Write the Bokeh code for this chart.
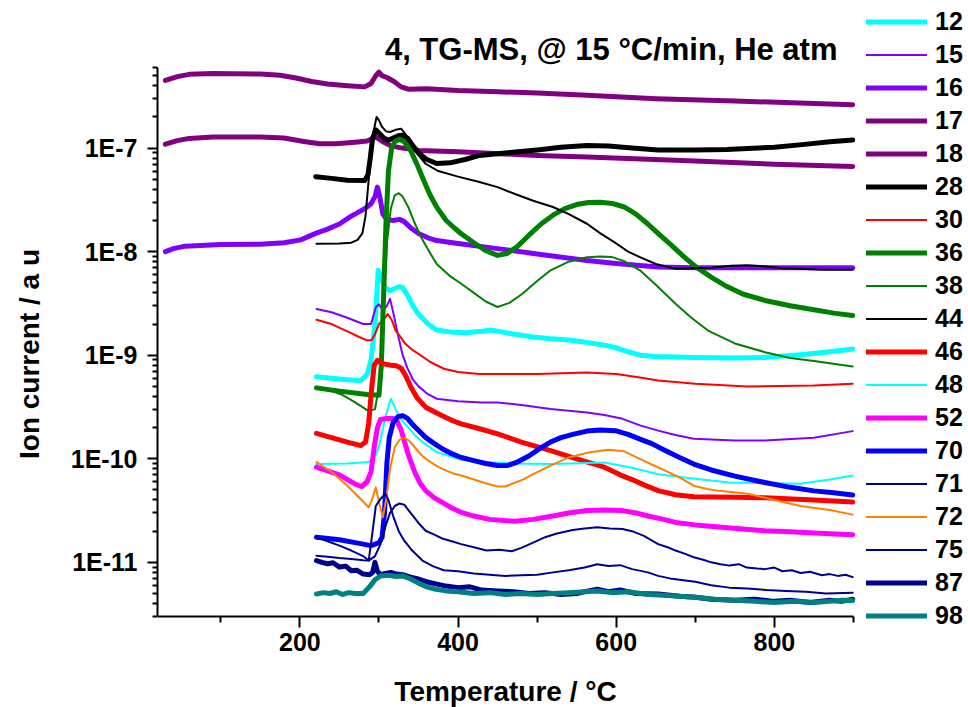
from bokeh.plotting import figure
from bokeh.models import Legend, LegendItem, FixedTicker, CustomJSTickFormatter, Range1d, Label
from bokeh.embed import file_html
from bokeh.resources import INLINE
import math

FONT = "Liberation Sans"

# ---------------- data (temperature in °C, ion current in a.u.) ----------------
T12 = [221, 240, 260, 277, 285, 290, 295, 299, 303, 308, 314, 320, 326, 330, 336, 343, 350, 362, 373, 390, 410, 430, 441, 455, 470, 495, 517, 540, 563, 585, 600, 615, 630, 650, 698, 750, 788, 840, 870, 899]
V12 = [6.2e-10, 6.0e-10, 5.8e-10, 5.7e-10, 6.5e-10, 9e-10, 2.0e-9, 6.6e-9, 5.4e-9, 4.5e-9, 4.2e-9, 4.4e-9, 4.6e-9, 4.5e-9, 3.8e-9, 3.0e-9, 2.5e-9, 2.0e-9, 1.75e-9, 1.68e-9, 1.65e-9, 1.7e-9, 1.75e-9, 1.68e-9, 1.6e-9, 1.5e-9, 1.44e-9, 1.4e-9, 1.33e-9, 1.25e-9, 1.18e-9, 1.08e-9, 1.0e-9, 9.7e-10, 9.5e-10, 9.4e-10, 9.5e-10, 1.02e-9, 1.08e-9, 1.15e-9]

T15 = [221, 240, 260, 280, 290, 296, 300, 305, 310, 314, 318, 323, 330, 336, 343, 350, 362, 373, 400, 430, 450, 480, 517, 563, 585, 608, 630, 653, 675, 698, 750, 788, 850, 899]
V15 = [2.8e-9, 2.6e-9, 2.3e-9, 2.0e-9, 2.0e-9, 2.9e-9, 3.1e-9, 2.7e-9, 3.0e-9, 3.5e-9, 2.6e-9, 1.7e-9, 1.0e-9, 7.5e-10, 5.8e-10, 5.0e-10, 4.2e-10, 3.8e-10, 3.6e-10, 3.5e-10, 3.5e-10, 3.3e-10, 3.03e-10, 2.8e-10, 2.65e-10, 2.43e-10, 2.1e-10, 1.87e-10, 1.7e-10, 1.56e-10, 1.5e-10, 1.5e-10, 1.6e-10, 1.85e-10]

T16 = [30, 40, 55, 100, 150, 180, 201, 220, 235, 250, 265, 282, 290, 295, 298, 301, 305, 310, 318, 326, 332, 340, 350, 362, 373, 400, 450, 500, 563, 600, 653, 700, 800, 899]
V16 = [1.0e-8, 1.07e-8, 1.13e-8, 1.17e-8, 1.18e-8, 1.22e-8, 1.3e-8, 1.5e-8, 1.65e-8, 1.85e-8, 2.2e-8, 2.6e-8, 2.9e-8, 3.4e-8, 4.2e-8, 3.4e-8, 2.3e-8, 2.05e-8, 2.0e-8, 2.05e-8, 1.95e-8, 1.7e-8, 1.5e-8, 1.36e-8, 1.28e-8, 1.2e-8, 1.07e-8, 9.5e-9, 8.2e-9, 7.7e-9, 7.1e-9, 7.0e-9, 7.0e-9, 7.0e-9]

T17 = [30, 45, 60, 90, 150, 175, 195, 215, 235, 260, 282, 290, 296, 300, 304, 310, 319, 328, 337, 360, 400, 450, 500, 563, 650, 750, 899]
V17 = [4.5e-7, 4.9e-7, 5.15e-7, 5.25e-7, 5.2e-7, 5.05e-7, 4.75e-7, 4.4e-7, 4.15e-7, 4.0e-7, 3.9e-7, 4.2e-7, 5.0e-7, 5.4e-7, 5.0e-7, 4.8e-7, 4.4e-7, 3.9e-7, 3.7e-7, 3.75e-7, 3.6e-7, 3.5e-7, 3.4e-7, 3.23e-7, 3.0e-7, 2.85e-7, 2.62e-7]

T18 = [30, 45, 60, 90, 150, 180, 205, 225, 245, 270, 285, 296, 305, 315, 330, 350, 400, 500, 563, 700, 800, 899]
V18 = [1.09e-7, 1.18e-7, 1.24e-7, 1.28e-7, 1.28e-7, 1.25e-7, 1.16e-7, 1.1e-7, 1.1e-7, 1.14e-7, 1.17e-7, 1.28e-7, 1.15e-7, 1.05e-7, 1.0e-7, 9.5e-8, 9.2e-8, 8.5e-8, 8.2e-8, 7.5e-8, 7.0e-8, 6.65e-8]

T28 = [220, 240, 260, 282, 286, 289, 292, 296, 300, 306, 312, 318, 325, 330, 336, 343, 350, 360, 373, 390, 410, 427, 450, 472, 500, 530, 563, 590, 620, 653, 700, 740, 766, 800, 835, 870, 899]
V28 = [5.3e-8, 5.1e-8, 4.9e-8, 4.87e-8, 5.5e-8, 8e-8, 1.25e-7, 1.5e-7, 1.4e-7, 1.25e-7, 1.19e-7, 1.25e-7, 1.32e-7, 1.33e-7, 1.25e-7, 1.05e-7, 9.0e-8, 7.8e-8, 7.1e-8, 7.2e-8, 7.8e-8, 8.5e-8, 8.8e-8, 9.15e-8, 9.6e-8, 1.02e-7, 1.06e-7, 1.05e-7, 1.0e-7, 9.6e-8, 9.6e-8, 9.7e-8, 9.9e-8, 1.02e-7, 1.08e-7, 1.15e-7, 1.2e-7]

T30 = [221, 240, 260, 275, 285, 291, 295, 300, 306, 311, 316, 321, 326, 333, 342, 350, 365, 382, 400, 427, 500, 563, 600, 630, 653, 700, 766, 850, 899]
V30 = [2.2e-9, 2.0e-9, 1.7e-9, 1.5e-9, 1.39e-9, 1.4e-9, 1.6e-9, 2.0e-9, 2.2e-9, 2.5e-9, 2.2e-9, 1.73e-9, 1.55e-9, 1.3e-9, 1.13e-9, 1.03e-9, 8.6e-10, 7.4e-10, 6.9e-10, 6.6e-10, 6.6e-10, 6.8e-10, 6.6e-10, 6.1e-10, 5.7e-10, 5.3e-10, 5.0e-10, 5.1e-10, 5.3e-10]

T36 = [221, 250, 285, 300, 303, 306, 309, 312, 316, 320, 326, 332, 340, 348, 356, 364, 373, 385, 395, 404, 420, 435, 450, 462, 475, 490, 505, 520, 535, 550, 565, 580, 595, 610, 625, 640, 655, 670, 685, 700, 720, 740, 760, 788, 820, 850, 875, 899]
V36 = [4.84e-10, 4.5e-10, 4.17e-10, 4.1e-10, 8e-10, 4e-9, 2e-8, 6e-8, 1.0e-7, 1.15e-7, 1.22e-7, 1.15e-7, 9.5e-8, 7.0e-8, 5.0e-8, 3.6e-8, 2.69e-8, 2.0e-8, 1.7e-8, 1.49e-8, 1.22e-8, 1.02e-8, 9.2e-9, 9.6e-9, 1.12e-8, 1.45e-8, 1.85e-8, 2.25e-8, 2.6e-8, 2.85e-8, 2.98e-8, 3.0e-8, 2.92e-8, 2.7e-8, 2.3e-8, 1.85e-8, 1.45e-8, 1.15e-8, 9.0e-9, 7.2e-9, 5.67e-9, 4.6e-9, 3.9e-9, 3.38e-9, 3.0e-9, 2.75e-9, 2.55e-9, 2.42e-9]

T38 = [221, 240, 252, 270, 286, 295, 300, 305, 310, 315, 320, 325, 330, 337, 345, 355, 365, 373, 390, 404, 420, 435, 450, 465, 481, 500, 517, 540, 563, 580, 594, 610, 630, 650, 675, 695, 716, 750, 788, 820, 850, 899]
V38 = [4.8e-10, 4.5e-10, 4.2e-10, 3.5e-10, 2.92e-10, 3.0e-10, 5e-10, 2e-9, 1.2e-8, 2.6e-8, 3.5e-8, 3.67e-8, 3.4e-8, 2.7e-8, 1.9e-8, 1.3e-8, 9.6e-9, 7.6e-9, 5.8e-9, 4.9e-9, 4.0e-9, 3.3e-9, 2.92e-9, 3.2e-9, 3.9e-9, 5.2e-9, 6.6e-9, 8.0e-9, 8.85e-9, 9.0e-9, 8.9e-9, 8.1e-9, 6.6e-9, 4.8e-9, 3.14e-9, 2.3e-9, 1.73e-9, 1.3e-9, 1.07e-9, 9.4e-10, 8.8e-10, 7.8e-10]

T44 = [221, 250, 265, 273, 279, 283, 287, 292, 297, 300, 304, 309, 314, 321, 328, 334, 340, 350, 359, 375, 400, 427, 450, 472, 495, 520, 540, 563, 580, 600, 615, 630, 650, 675, 700, 720, 745, 766, 790, 810, 833, 860, 899]
V44 = [1.19e-8, 1.2e-8, 1.22e-8, 1.3e-8, 1.5e-8, 2.2e-8, 4.9e-8, 1.3e-7, 2.0e-7, 1.85e-7, 1.6e-7, 1.45e-7, 1.43e-7, 1.5e-7, 1.54e-7, 1.35e-7, 1.1e-7, 8.5e-8, 7.06e-8, 6.0e-8, 5.3e-8, 4.7e-8, 4.2e-8, 3.6e-8, 3.1e-8, 2.7e-8, 2.3e-8, 1.86e-8, 1.5e-8, 1.2e-8, 1.0e-8, 8.85e-9, 7.6e-9, 6.84e-9, 6.9e-9, 7.0e-9, 7.3e-9, 7.4e-9, 7.2e-9, 6.9e-9, 6.84e-9, 6.7e-9, 6.7e-9]

T46 = [221, 240, 260, 277, 283, 287, 291, 294, 298, 305, 315, 322, 328, 334, 340, 348, 359, 370, 380, 392, 404, 425, 450, 480, 517, 550, 585, 605, 620, 635, 653, 675, 698, 750, 788, 850, 899]
V46 = [1.76e-10, 1.6e-10, 1.45e-10, 1.34e-10, 1.45e-10, 2.2e-10, 5e-10, 8.0e-10, 8.9e-10, 8.3e-10, 8.0e-10, 7.9e-10, 7.5e-10, 6.3e-10, 5.0e-10, 3.9e-10, 3.15e-10, 2.85e-10, 2.6e-10, 2.35e-10, 2.17e-10, 1.97e-10, 1.74e-10, 1.45e-10, 1.2e-10, 1.0e-10, 8.3e-11, 7.0e-11, 6.3e-11, 5.6e-11, 4.93e-11, 4.5e-11, 4.3e-11, 4.25e-11, 4.2e-11, 4.0e-11, 3.82e-11]

T48 = [221, 260, 287, 295, 300, 308, 315, 322, 330, 337, 345, 355, 373, 400, 427, 470, 517, 585, 620, 653, 700, 743, 800, 833, 870, 899]
V48 = [8.9e-11, 9.0e-11, 9.3e-11, 1.05e-10, 1.3e-10, 2.5e-10, 3.8e-10, 2.9e-10, 2.3e-10, 2.01e-10, 1.7e-10, 1.45e-10, 1.16e-10, 1.0e-10, 9.3e-11, 9.0e-11, 8.9e-11, 9.2e-11, 8.2e-11, 7.1e-11, 6.4e-11, 5.9e-11, 5.8e-11, 5.75e-11, 6.3e-11, 6.9e-11]

T52 = [221, 250, 270, 278, 285, 290, 294, 298, 302, 310, 318, 323, 328, 333, 337, 345, 352, 359, 370, 380, 392, 404, 420, 440, 472, 495, 520, 540, 563, 585, 608, 625, 640, 660, 675, 700, 730, 760, 788, 820, 850, 899]
V52 = [8.3e-11, 7e-11, 5.7e-11, 5.4e-11, 6e-11, 7.5e-11, 1.3e-10, 2.0e-10, 2.4e-10, 2.45e-10, 2.45e-10, 2.3e-10, 1.9e-10, 1.4e-10, 1.1e-10, 7.5e-11, 5.8e-11, 4.93e-11, 4.2e-11, 3.8e-11, 3.35e-11, 3.04e-11, 2.8e-11, 2.6e-11, 2.49e-11, 2.6e-11, 2.8e-11, 3.0e-11, 3.16e-11, 3.2e-11, 3.16e-11, 3.0e-11, 2.8e-11, 2.6e-11, 2.43e-11, 2.3e-11, 2.2e-11, 2.1e-11, 2.02e-11, 1.97e-11, 1.92e-11, 1.85e-11]

T70 = [221, 250, 270, 290, 300, 304, 307, 310, 313, 318, 324, 330, 336, 345, 359, 370, 380, 392, 404, 420, 435, 450, 462, 475, 490, 505, 517, 530, 545, 563, 580, 599, 615, 630, 645, 660, 680, 698, 720, 750, 788, 820, 850, 875, 899]
V70 = [1.75e-11, 1.65e-11, 1.55e-11, 1.45e-11, 1.55e-11, 1.75e-11, 3e-11, 9e-11, 1.6e-10, 2.25e-10, 2.55e-10, 2.61e-10, 2.45e-10, 2.05e-10, 1.61e-10, 1.4e-10, 1.25e-10, 1.12e-10, 1.03e-10, 9.6e-11, 9.0e-11, 8.6e-11, 8.6e-11, 9.3e-11, 1.07e-10, 1.28e-10, 1.45e-10, 1.6e-10, 1.72e-10, 1.85e-10, 1.9e-10, 1.87e-10, 1.72e-10, 1.55e-10, 1.4e-10, 1.22e-10, 1.03e-10, 8.9e-11, 7.8e-11, 6.8e-11, 5.9e-11, 5.3e-11, 4.9e-11, 4.7e-11, 4.48e-11]

T71 = [221, 235, 250, 265, 280, 287, 295, 302, 308, 314, 320, 326, 332, 340, 350, 359, 370, 380, 392, 404, 420, 436, 452, 468, 480, 495, 510, 525, 545, 560, 576, 592, 608, 620, 635, 653, 665, 675, 688, 698, 710, 720, 732, 743, 755, 765, 778, 788, 800, 810, 822, 833, 845, 860, 870, 880, 890, 899]
V71 = [1.75e-11, 1.6e-11, 1.45e-11, 1.3e-11, 1.15e-11, 1.04e-11, 1.15e-11, 1.5e-11, 2.2e-11, 3.0e-11, 3.5e-11, 3.7e-11, 3.6e-11, 3.0e-11, 2.4e-11, 2.02e-11, 1.85e-11, 1.7e-11, 1.6e-11, 1.5e-11, 1.4e-11, 1.3e-11, 1.32e-11, 1.28e-11, 1.38e-11, 1.55e-11, 1.75e-11, 1.9e-11, 2.05e-11, 2.12e-11, 2.18e-11, 2.12e-11, 2.1e-11, 2.0e-11, 1.8e-11, 1.5e-11, 1.4e-11, 1.3e-11, 1.2e-11, 1.12e-11, 1.06e-11, 1.0e-11, 9.6e-12, 9.3e-12, 9.6e-12, 8.9e-12, 8.7e-12, 8.6e-12, 8.9e-12, 8.2e-12, 8.4e-12, 7.9e-12, 8.1e-12, 7.5e-12, 7.7e-12, 7.4e-12, 7.6e-12, 7.2e-12]

T72 = [221, 240, 260, 278, 287, 292, 296, 300, 305, 309, 314, 320, 326, 332, 338, 345, 352, 359, 370, 380, 392, 404, 420, 435, 450, 460, 470, 482, 495, 517, 540, 565, 590, 610, 630, 645, 660, 680, 698, 715, 730, 766, 800, 833, 870, 899]
V72 = [9.3e-11, 7.5e-11, 5.5e-11, 4.0e-11, 3.4e-11, 4.2e-11, 5.3e-11, 3.8e-11, 2.72e-11, 4e-11, 8e-11, 1.3e-10, 1.52e-10, 1.59e-10, 1.5e-10, 1.3e-10, 1.12e-10, 1.0e-10, 8.8e-11, 8.0e-11, 7.3e-11, 6.9e-11, 6.3e-11, 5.8e-11, 5.4e-11, 5.4e-11, 5.8e-11, 6.3e-11, 7.1e-11, 8.6e-11, 1.03e-10, 1.15e-10, 1.22e-10, 1.18e-10, 1.0e-10, 8.8e-11, 7.8e-11, 6.6e-11, 5.5e-11, 5.1e-11, 4.9e-11, 4.6e-11, 4.0e-11, 3.5e-11, 3.2e-11, 2.89e-11]

T75 = [221, 235, 250, 265, 280, 287, 292, 296, 302, 308, 312, 318, 325, 332, 342, 355, 368, 382, 400, 420, 440, 460, 480, 500, 520, 540, 560, 576, 590, 605, 620, 640, 653, 668, 680, 700, 720, 743, 766, 790, 815, 840, 865, 899]
V75 = [1.16e-11, 1.13e-11, 1.1e-11, 1.08e-11, 1.05e-11, 1.04e-11, 2.0e-11, 3.5e-11, 4.1e-11, 4.6e-11, 4.0e-11, 2.8e-11, 2.0e-11, 1.62e-11, 1.3e-11, 1.04e-11, 9.2e-12, 8.4e-12, 8.2e-12, 7.8e-12, 7.6e-12, 7.4e-12, 7.5e-12, 7.6e-12, 8.0e-12, 8.4e-12, 8.9e-12, 9.6e-12, 9.2e-12, 9.4e-12, 8.6e-12, 8.0e-12, 7.4e-12, 7.0e-12, 6.8e-12, 6.5e-12, 6.0e-12, 5.7e-12, 5.6e-12, 5.4e-12, 5.3e-12, 5.2e-12, 5.0e-12, 5.1e-12]

T87 = [221, 228, 235, 242, 250, 258, 265, 272, 280, 288, 292, 295, 298, 302, 308, 315, 322, 330, 340, 350, 360, 372, 385, 400, 415, 430, 450, 470, 490, 510, 530, 550, 565, 576, 590, 605, 625, 653, 680, 700, 720, 750, 775, 800, 820, 845, 870, 885, 899]
V87 = [1.04e-11, 1.0e-11, 9.7e-12, 9.9e-12, 9.0e-12, 9.2e-12, 8.3e-12, 8.4e-12, 7.7e-12, 7.6e-12, 8.0e-12, 1.0e-11, 8.2e-12, 7.6e-12, 7.8e-12, 8.0e-12, 7.7e-12, 7.6e-12, 7.2e-12, 6.9e-12, 6.5e-12, 6.2e-12, 5.9e-12, 5.7e-12, 5.8e-12, 5.4e-12, 5.3e-12, 5.2e-12, 5.0e-12, 5.1e-12, 4.9e-12, 5.0e-12, 5.3e-12, 5.5e-12, 5.2e-12, 5.4e-12, 5.0e-12, 4.95e-12, 4.7e-12, 4.6e-12, 4.4e-12, 4.3e-12, 4.4e-12, 4.2e-12, 4.3e-12, 4.1e-12, 4.3e-12, 4.2e-12, 4.4e-12]

T98 = [221, 230, 238, 246, 254, 262, 270, 280, 288, 295, 302, 312, 322, 330, 340, 350, 360, 372, 385, 400, 420, 440, 460, 480, 500, 520, 540, 560, 576, 595, 615, 640, 660, 680, 700, 725, 750, 775, 800, 825, 850, 870, 885, 899]
V98 = [4.95e-12, 5.1e-12, 5.0e-12, 5.2e-12, 4.9e-12, 5.1e-12, 5.0e-12, 5.0e-12, 5.8e-12, 6.8e-12, 7.4e-12, 7.5e-12, 7.3e-12, 7.4e-12, 6.9e-12, 6.3e-12, 5.8e-12, 5.5e-12, 5.3e-12, 5.2e-12, 5.0e-12, 5.1e-12, 4.9e-12, 5.0e-12, 4.9e-12, 5.0e-12, 5.1e-12, 5.2e-12, 5.3e-12, 5.1e-12, 5.2e-12, 4.9e-12, 4.8e-12, 4.7e-12, 4.6e-12, 4.4e-12, 4.3e-12, 4.2e-12, 4.1e-12, 4.2e-12, 4.1e-12, 4.2e-12, 4.3e-12, 4.27e-12]

names = ["12", "15", "16", "17", "18", "28", "30", "36", "38", "44", "46", "48", "52", "70", "71", "72", "75", "87", "98"]
temps = [T12, T15, T16, T17, T18, T28, T30, T36, T38, T44, T46, T48, T52, T70, T71, T72, T75, T87, T98]
vals = [V12, V15, V16, V17, V18, V28, V30, V36, V38, V44, V46, V48, V52, V70, V71, V72, V75, V87, V98]
colors = ["#00FFFF", "#8000FF", "#8000FF", "#800080", "#800080", "#000000", "#FF0000", "#008000", "#008000", "#000000",
          "#FF0000", "#00FFFF", "#FF00FF", "#0000FF", "#000090", "#FF8000", "#000090", "#000090", "#008080"]
widths = [5, 2, 5, 5, 5, 5, 2, 5, 2, 2, 5, 2, 5, 5, 2, 2, 2, 5, 5]

TITLE = "4, TG-MS, @ 15 °C/min, He atm"
X_LABEL = "Temperature / °C"
Y_LABEL = "Ion current / a u"
x_bounds = (20, 900)
y_bounds = (3.0e-12, 6.0e-7)
x_major = [200, 400, 600, 800]
x_minor = [100, 300, 500, 700, 900]
y_major = [1e-11, 1e-10, 1e-9, 1e-8, 1e-7]
y_minor = [m * 10.0 ** k for k in range(-12, -6) for m in range(2, 10)
           if y_bounds[0] * 0.999 <= m * 10.0 ** k <= y_bounds[1] * 1.001]

# ---------------- layout geometry (pixels) ----------------
LEFT = 157            # y-axis position on the canvas
AX_W = 696            # width of the axes area
AX_TOP = 67           # top of the axes area
AX_H = 549            # height of the axes area
FRAME_W = 968 - LEFT  # frame runs to the right edge (room for the legend)
FRAME_H = 707         # frame runs over the whole height (title, tick labels, x label inside)
px_x = AX_W / (x_bounds[1] - x_bounds[0])
px_dec = AX_H / (math.log10(y_bounds[1]) - math.log10(y_bounds[0]))
x_end = x_bounds[0] + FRAME_W / px_x
y_top = 10 ** (math.log10(y_bounds[1]) + AX_TOP / px_dec)
y_bot = 10 ** (math.log10(y_bounds[0]) - (FRAME_H - AX_TOP - AX_H) / px_dec)


def x_at(px):
    return x_bounds[0] + (px - LEFT) / px_x


def y_at(py):
    return 10 ** (math.log10(y_bounds[1]) - (py - AX_TOP) / px_dec)


p = figure(frame_width=FRAME_W, frame_height=FRAME_H, x_range=Range1d(x_bounds[0], x_end),
           y_range=Range1d(y_bot, y_top), y_axis_type="log", output_backend="svg",
           toolbar_location=None, title=None,
           min_border_left=LEFT, min_border_right=0, min_border_top=0, min_border_bottom=0)
p.xgrid.visible = False
p.ygrid.visible = False
p.outline_line_color = None

items = []
for n, t, v, c, w in zip(names, temps, vals, colors, widths):
    r = p.line(t, v, line_color=c, line_width=w, line_join="round", line_cap="round")
    items.append(LegendItem(label=n, renderers=[r]))

xa = p.xaxis[0]
ya = p.yaxis[0]
xa.bounds = x_bounds
ya.bounds = y_bounds
xa.fixed_location = y_bounds[0]
xa.ticker = FixedTicker(ticks=x_major, minor_ticks=x_minor)
ya.ticker = FixedTicker(ticks=y_major, minor_ticks=y_minor)
ya.formatter = CustomJSTickFormatter(code="return '1E' + Math.round(Math.log10(tick));")
for ax in (xa, ya):
    ax.axis_line_width = 2
    ax.axis_line_color = "black"
    ax.major_tick_line_width = 2
    ax.minor_tick_line_width = 2
    ax.major_tick_line_color = "black"
    ax.minor_tick_line_color = "black"
    ax.major_tick_in = 0
    ax.minor_tick_in = 0
    ax.major_label_text_font = FONT
    ax.major_label_text_font_style = "bold"
    ax.major_label_text_font_size = "25px"
    ax.major_label_text_color = "black"
    ax.axis_label_text_font = FONT
    ax.axis_label_text_font_style = "bold"
    ax.axis_label_text_font_size = "28px"
    ax.axis_label_text_color = "black"
xa.major_tick_out = 11
xa.minor_tick_out = 6
ya.major_tick_out = 10
ya.minor_tick_out = 5
xa.major_label_standoff = 5
ya.major_label_standoff = 10
ya.axis_label = Y_LABEL
ya.axis_label_standoff = 23

xlab = Label(x=x_at(505), y=y_at(691), text=X_LABEL, text_align="center", text_baseline="alphabetic",
             text_font=FONT, text_font_style="bold", text_font_size="28px", text_color="black")
p.add_layout(xlab)

legend = Legend(items=items, location=(709, FRAME_H - 632), glyph_width=61, glyph_height=33, label_height=33,
                label_standoff=8, spacing=0, padding=0, margin=0,
                border_line_alpha=0, background_fill_alpha=0,
                label_text_font=FONT, label_text_font_style="bold", label_text_font_size="25px",
                label_text_color="black")
p.add_layout(legend)

title = Label(x=x_at(837), y=y_at(49), text=TITLE, text_align="right", text_baseline="alphabetic",
              text_font=FONT, text_font_style="bold", text_font_size="31px", text_color="black")
p.add_layout(title)

open("out.html", "w").write(file_html(p, INLINE))
